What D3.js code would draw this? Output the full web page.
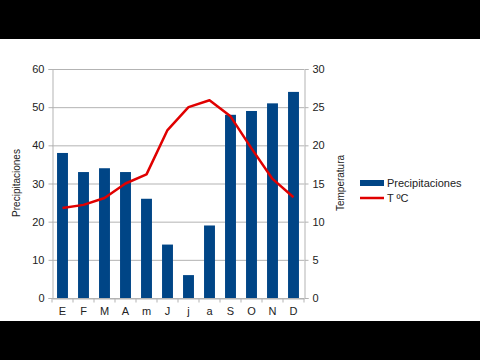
<!DOCTYPE html>
<html><head><meta charset="utf-8">
<script src="https://cdn.jsdelivr.net/npm/d3@7"></script>
<style>body{margin:0;background:#000}svg{display:block}</style>
</head><body>
<svg id="c" width="480" height="360"></svg>
<script>
const months = ["E","F","M","A","m","J","j","a","S","O","N","D"];
const precip = [38,33,34,33,26,14,6,19,48,49,51,54];
const temp = [11.8,12.2,13.1,15.0,16.2,22.0,25.0,25.9,23.8,19.6,15.6,13.2];
const leftTicks = [0,10,20,30,40,50,60];
const rightTicks = [0,5,10,15,20,25,30];

const svg = d3.select("#c");
svg.append("rect").attr("x",0).attr("y",39).attr("width",480).attr("height",282).attr("fill","#fff");
const L=52, R=304, T=69, B=298;
const x = d3.scaleBand().domain(months).range([L,R]).paddingInner(0.48).paddingOuter(0.24);
const xb = d3.scaleBand().domain(months).range([L,R]);
const yL = d3.scaleLinear().domain([0,60]).range([B,T]);
const yR = d3.scaleLinear().domain([0,30]).range([B,T]);
const font = "Liberation Sans, Arial, sans-serif";
// grid
svg.append("g").selectAll("line").data(leftTicks).join("line")
  .attr("x1",L).attr("x2",R).attr("y1",d=>yL(d)+0.5).attr("y2",d=>yL(d)+0.5)
  .attr("stroke","#b3b3b3").attr("stroke-width",1);
// axes
const ga = svg.append("g").attr("transform",`translate(${L+0.5},0)`).call(d3.axisLeft(yL).tickValues(leftTicks).tickSize(4).tickPadding(4));
const gr = svg.append("g").attr("transform",`translate(${R+0.5},0)`).call(d3.axisRight(yR).tickValues(rightTicks).tickSize(4).tickPadding(4));
const gx = svg.append("g").attr("transform",`translate(0,${B+0.5})`).call(d3.axisBottom(xb).tickSize(0).tickPadding(9));
gx.selectAll(".tick").each(function(d,i){
  d3.select(this).append("line").attr("x1",-xb.bandwidth()/2).attr("x2",-xb.bandwidth()/2).attr("y1",0).attr("y2",4).attr("stroke","#b3b3b3");
});
gx.append("line").attr("x1",R).attr("x2",R).attr("y1",0).attr("y2",4).attr("stroke","#b3b3b3");
[ga,gr,gx].forEach(g=>{
  g.selectAll(".domain").attr("stroke","#b3b3b3");
  g.selectAll(".tick line").attr("stroke","#b3b3b3");
  g.selectAll("text").attr("font-family",font).attr("font-size",11).attr("fill","#222");
});
// bars
svg.append("g").selectAll("rect").data(precip).join("rect")
  .attr("x",(d,i)=>x(months[i])).attr("width",x.bandwidth())
  .attr("y",d=>yL(d)).attr("height",d=>B-yL(d)).attr("fill","#004586");
// line
svg.append("path").datum(temp)
  .attr("d",d3.line().x((d,i)=>xb(months[i])+xb.bandwidth()/2).y(d=>yR(d)))
  .attr("fill","none").attr("stroke","#e00000").attr("stroke-width",2.5).attr("stroke-linejoin","round");
// axis titles
svg.append("text").attr("transform","translate(20,183) rotate(-90)").attr("text-anchor","middle")
  .attr("font-family",font).attr("font-size",10).attr("fill","#222").text("Precipitaciones");
svg.append("text").attr("transform","translate(344,183) rotate(-90)").attr("text-anchor","middle")
  .attr("font-family",font).attr("font-size",10).attr("fill","#222").text("Temperatura");
// legend
svg.append("rect").attr("x",360).attr("y",180).attr("width",24).attr("height",6).attr("fill","#004586");
svg.append("text").attr("x",387).attr("y",187).attr("font-family",font).attr("font-size",11).attr("fill","#222").text("Precipitaciones");
svg.append("line").attr("x1",360).attr("x2",384).attr("y1",198).attr("y2",198).attr("stroke","#e00000").attr("stroke-width",2.5);
svg.append("text").attr("x",387).attr("y",202).attr("font-family",font).attr("font-size",11).attr("fill","#222").text("T ºC");
</script>
</body></html>
